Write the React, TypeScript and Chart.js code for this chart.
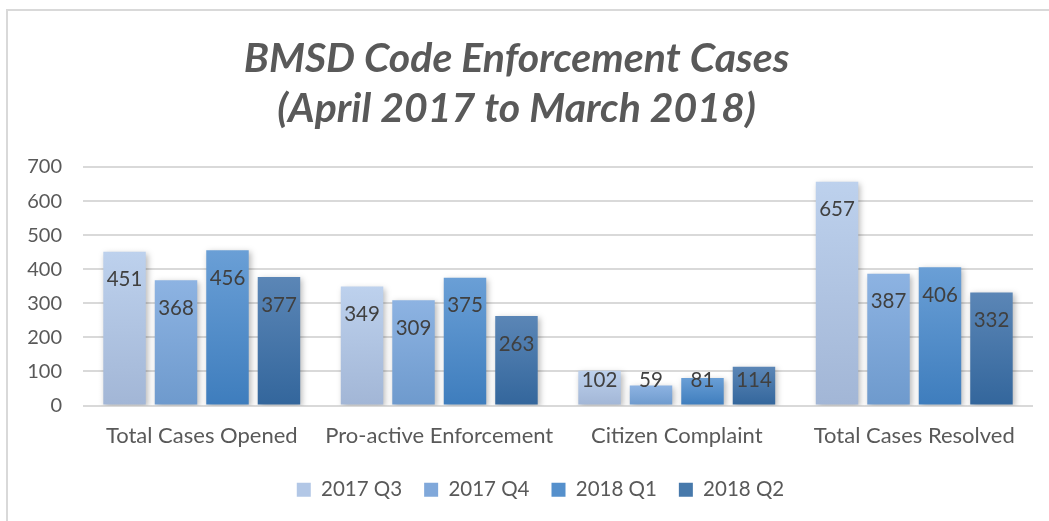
import React, { useEffect, useRef } from "react";
import { Chart, registerables } from "chart.js";

Chart.register(...registerables);

const categories = ["Total Cases Opened", "Pro-active Enforcement", "Citizen Complaint", "Total Cases Resolved"];
const seriesNames = ["2017 Q3", "2017 Q4", "2018 Q1", "2018 Q2"];
const q3_2017 = [451, 349, 102, 657];
const q4_2017 = [368, 309, 59, 387];
const q1_2018 = [456, 375, 81, 406];
const q2_2018 = [377, 263, 114, 332];
const titleLines = ["BMSD Code Enforcement Cases", "(April 2017 to March 2018)"];
const yMax = 700;
const yStep = 100;

const gradTop = ["#BDD1ED", "#8DB3E2", "#6A9FD6", "#5B86B6"];
const gradBottom = ["#A2B6D6", "#6E9ACD", "#3E7DBD", "#33669C"];
const gradMid = ["#B2C7E6", "#80A8DA", "#5590CC", "#4779AB"];

const FONT = "Lato, 'Open Sans', sans-serif";

export default function App() {
  const ref = useRef<HTMLCanvasElement | null>(null);
  useEffect(() => {
    if (!ref.current) return;
    const values = [q3_2017, q4_2017, q1_2018, q2_2018];
    const framePlugin = {
      id: "frame",
      beforeDraw(chart: any) {
        const c = chart.ctx;
        c.save();
        c.fillStyle = "#ffffff";
        c.fillRect(0, 0, chart.width, chart.height);
        c.strokeStyle = "#d9d9d9";
        c.lineWidth = 2;
        c.beginPath();
        c.moveTo(7, chart.height);
        c.lineTo(7, 10);
        c.lineTo(chart.width, 10);
        c.stroke();
        c.restore();
      },
    };
    const legendShift = {
      id: "legendShift",
      afterLayout(chart: any) {
        if (chart.legend) {
          chart.legend.left += 24;
          chart.legend.right += 24;
        }
      },
    };
    const shadowPlugin = {
      id: "shadow",
      beforeDatasetsDraw(chart: any) {
        const c = chart.ctx;
        c.save();
        c.shadowColor = "rgba(0,0,0,0.28)";
        c.shadowBlur = 6;
        c.shadowOffsetX = 2;
        c.shadowOffsetY = 2;
      },
      afterDatasetsDraw(chart: any) {
        chart.ctx.restore();
      },
    };
    const labelPlugin = {
      id: "barLabels",
      afterDraw(chart: any) {
        const c = chart.ctx;
        c.save();
        c.font = "20.5px " + FONT;
        c.fillStyle = "#404040";
        c.textAlign = "center";
        c.textBaseline = "middle";
        chart.data.datasets.forEach((ds: any, i: number) => {
          const meta = chart.getDatasetMeta(i);
          meta.data.forEach((bar: any, j: number) => {
            const y = Math.min(bar.y + 28, bar.base - 24);
            c.fillText(String(ds.data[j]), bar.x, y);
          });
        });
        c.restore();
      },
    };
    const chart = new Chart(ref.current, {
      type: "bar",
      data: {
        labels: categories,
        datasets: seriesNames.map((name, i) => ({
          label: name,
          data: values[i],
          backgroundColor: (ctx: any) => {
            const ch = ctx.chart;
            const ys = ch.scales && ch.scales.y;
            if (!ctx.parsed || !ys || !ch.chartArea) return gradMid[i];
            const top = ys.getPixelForValue(ctx.parsed.y);
            const bottom = ys.getPixelForValue(0);
            if (!isFinite(top) || !isFinite(bottom) || top === bottom) return gradMid[i];
            const g = ch.ctx.createLinearGradient(0, top, 0, bottom);
            g.addColorStop(0, gradTop[i]);
            g.addColorStop(1, gradBottom[i]);
            return g;
          },
          categoryPercentage: 0.867,
          barPercentage: 0.825,
        })),
      },
      options: {
        animation: false,
        responsive: false,
        layout: { padding: { left: 0, right: 16, top: 34, bottom: 11 } },
        plugins: {
          title: {
            display: true,
            text: titleLines,
            color: "#595959",
            font: { family: FONT, size: 41, style: "italic", weight: "bold", lineHeight: 1.22 },
            padding: { top: 0, bottom: 33 },
          },
          legend: {
            position: "bottom",
            labels: {
              color: "#595959",
              font: { family: FONT, size: 20.5 },
              boxWidth: 14,
              boxHeight: 14,
              padding: 22,
              generateLabels: () =>
                seriesNames.map((n, i) => ({
                  text: n,
                  fillStyle: gradMid[i],
                  strokeStyle: gradMid[i],
                  lineWidth: 0,
                  datasetIndex: i,
                  fontColor: "#595959",
                  hidden: false,
                })),
            },
          },
          tooltip: { enabled: false },
        },
        scales: {
          x: {
            grid: { display: false, drawTicks: false },
            border: { display: false },
            ticks: { color: "#595959", font: { family: FONT, size: 22 }, padding: 17 },
            afterFit: (s: any) => { s.height = 52; },
          },
          y: {
            min: 0,
            max: yMax,
            grid: { color: "#d9d9d9", lineWidth: 2, drawTicks: false },
            border: { display: false },
            ticks: { stepSize: yStep, color: "#595959", font: { family: FONT, size: 20 }, padding: 21 },
            afterFit: (s: any) => { s.width = 83; },
          },
        },
      },
      plugins: [framePlugin, legendShift, shadowPlugin, labelPlugin],
    });
    return () => chart.destroy();
  }, []);
  return (
    <div style={{ position: "absolute", left: 0, top: 0, width: 1049, height: 521 }}>
      <canvas ref={ref} width={1049} height={521} style={{ display: "block" }} />
    </div>
  );
}
